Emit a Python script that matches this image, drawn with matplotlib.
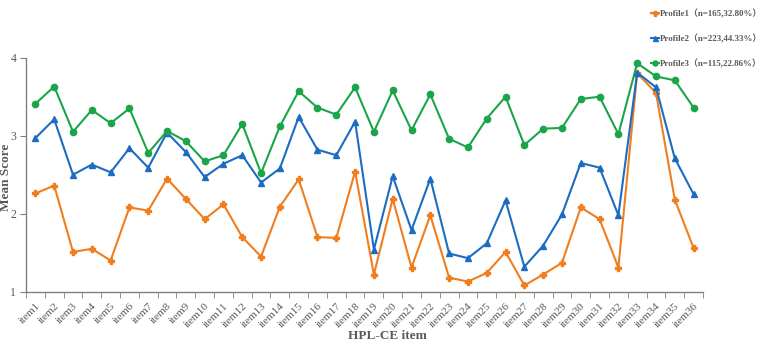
import numpy as np
import matplotlib
matplotlib.use("Agg")
import matplotlib.pyplot as plt

items = ["item%d" % i for i in range(1, 37)]

profile1 = [2.26, 2.36, 1.51, 1.55, 1.40, 2.08, 2.04, 2.45, 2.19, 1.93,
            2.12, 1.70, 1.45, 2.09, 2.44, 1.70, 1.69, 2.54, 1.22, 2.19,
            1.31, 1.98, 1.18, 1.13, 1.24, 1.51, 1.08, 1.22, 1.37, 2.08,
            1.93, 1.31, 3.80, 3.55, 2.18, 1.56]
profile2 = [2.97, 3.21, 2.50, 2.63, 2.53, 2.84, 2.59, 3.04, 2.79, 2.47,
            2.64, 2.75, 2.40, 2.58, 3.24, 2.82, 2.75, 3.18, 1.54, 2.48,
            1.79, 2.45, 1.49, 1.43, 1.62, 2.17, 1.32, 1.59, 1.99, 2.65,
            2.59, 1.98, 3.81, 3.62, 2.71, 2.25]
profile3 = [3.41, 3.63, 3.05, 3.33, 3.16, 3.35, 2.78, 3.06, 2.93, 2.67,
            2.75, 3.15, 2.52, 3.12, 3.57, 3.36, 3.27, 3.62, 3.05, 3.58,
            3.07, 3.53, 2.96, 2.85, 3.22, 3.50, 2.88, 3.09, 3.10, 3.47,
            3.50, 3.02, 3.93, 3.76, 3.71, 3.36]
labels = ["Profile1（n=165,32.80%）",
          "Profile2（n=223,44.33%）",
          "Profile3（n=115,22.86%）"]

serif = ["Liberation Serif", "Noto Sans CJK SC"]
grey = "#595959"

fig = plt.figure(figsize=(7.67, 3.45), dpi=100)
ax = fig.add_axes([26 / 767, 1 - 291.7 / 345, 677 / 767, (291.7 - 57.7) / 345])

x = np.arange(1, 37)
ax.plot(x, profile1, color="#F07D1E", marker="P", markersize=4.5, lw=1.5, label=labels[0], clip_on=False)
ax.plot(x, profile2, color="#1C6CC2", marker="^", markersize=4.5, lw=1.5, label=labels[1], clip_on=False)
ax.plot(x, profile3, color="#1AA54A", marker="o", markersize=4.5, lw=1.5, label=labels[2], clip_on=False)

ax.set_xlim(0.5, 36.5)
ax.set_ylim(1, 4)
ax.set_yticks([1, 2, 3, 4])
ax.set_xticks(x)
ax.set_xticklabels(items, rotation=45, ha="right", rotation_mode="anchor",
                   fontsize=8, family=serif, color=grey)
ax.set_xticks(np.arange(0.5, 37, 1), minor=True)
ax.tick_params(axis="x", which="major", length=0, pad=7)
ax.tick_params(axis="x", which="minor", length=4, direction="out", color="#808080")
ax.tick_params(axis="y", length=4, direction="out", color="#808080", labelsize=8.5, labelcolor=grey, pad=3)
for t in ax.get_yticklabels():
    t.set_family(serif)

for s in ["top", "right"]:
    ax.spines[s].set_visible(False)
for s in ["left", "bottom"]:
    ax.spines[s].set_color("#808080")
    ax.spines[s].set_linewidth(1.0)

ax.set_ylabel("Mean Score", fontsize=9.5, family=serif, fontweight="bold", color=grey)
ax.yaxis.set_label_coords(-0.021, 0.49)
ax.set_xlabel("HPL-CE item", fontsize=9.5, family=serif, fontweight="bold", color=grey)
ax.xaxis.set_label_coords((387 - 26) / 677, -0.165)

leg = fig.legend(loc="upper right", bbox_to_anchor=(1.0, 1.0 - 4 / 345), frameon=False,
                 prop={"family": serif, "weight": "bold", "size": 6.4},
                 handlelength=0.8, handletextpad=0.1, labelspacing=1.75,
                 markerscale=0.8, borderaxespad=0.2)
for t in leg.get_texts():
    t.set_color(grey)

fig.savefig("out.png", dpi=100)
